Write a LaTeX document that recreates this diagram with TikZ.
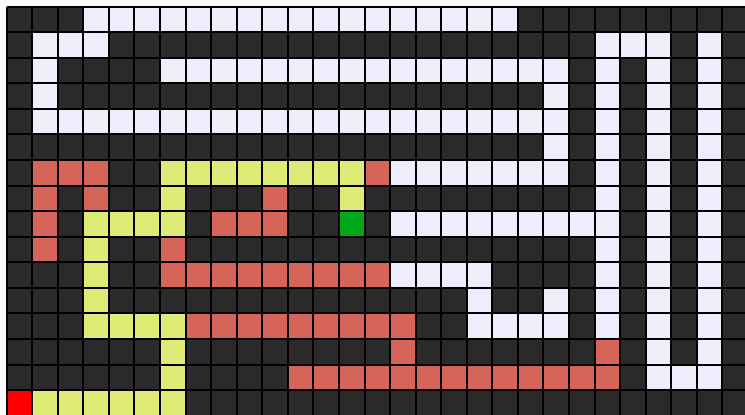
\documentclass[tikz,border=0pt]{standalone}
\usepackage{xcolor}
\definecolor{wall}{RGB}{42,42,42}
\definecolor{open}{RGB}{237,237,251}
\definecolor{seen}{RGB}{214,100,88}
\definecolor{route}{RGB}{222,235,116}
\definecolor{goal}{RGB}{0,170,25}
\definecolor{start}{RGB}{255,0,0}
\definecolor{paper}{RGB}{250,250,250}

\begin{document}
\begin{tikzpicture}[
  x=12.78pt, y=-12.78pt,
  wallcell/.style={fill=wall},
  opencell/.style={fill=open},
  seencell/.style={fill=seen},
  routecell/.style={fill=route},
  goalcell/.style={fill=goal},
  startcell/.style={fill=start},
  gridline/.style={draw=black, line width=1pt},
]
  \useasboundingbox (-0.262,-0.262) rectangle (28.885,15.974);
  \fill[paper] (-0.262,-0.262) rectangle (28.885,15.974);
  \clip (-0.262,-0.262) rectangle (28.885,15.974);

  % maze walls
  \fill[wallcell] (0,0) rectangle (29,16);

  % free cells (row/from/to)
  \foreach \r/\a/\b in {0/3/19, 1/1/3, 1/23/25, 2/1/1, 2/6/21, 4/1/21,
                        6/15/21, 8/15/22, 10/15/18, 11/18/18, 11/21/21, 12/18/21,
                        14/26/26}
    \fill[opencell] (\a,\r) rectangle (\b+1,\r+1);
  \foreach \c/\a/\b in {1/1/4, 21/2/6, 23/1/12, 25/1/14, 27/1/14}
    \fill[opencell] (\c,\a) rectangle (\c+1,\b+1);

  % explored cells
  \foreach \r/\a/\b in {6/1/3, 6/14/14, 7/3/3, 7/10/10, 8/8/10, 9/6/6,
                        10/6/14, 12/7/15, 13/15/15, 13/23/23, 14/11/23}
    \fill[seencell] (\a,\r) rectangle (\b+1,\r+1);
  \fill[seencell] (1,6) rectangle (2,10);

  % path found
  \foreach \r/\a/\b in {6/6/13, 7/6/6, 7/13/13, 8/3/6, 12/3/6, 15/1/6}
    \fill[routecell] (\a,\r) rectangle (\b+1,\r+1);
  \fill[routecell] (3,9) rectangle (4,12);
  \fill[routecell] (6,13) rectangle (7,15);

  \node[goalcell, inner sep=0pt, minimum size=12.78pt] (goal) at (13.5,8.5) {};
  \node[startcell, inner sep=0pt, minimum size=12.78pt] (start) at (0.5,15.5) {};

  % grid
  \foreach \i in {0,...,29}
    \draw[gridline] (\i,0) -- (\i,16);
  \foreach \j in {0,...,16}
    \draw[gridline] (0,\j) -- (29,\j);
\end{tikzpicture}
\end{document}
